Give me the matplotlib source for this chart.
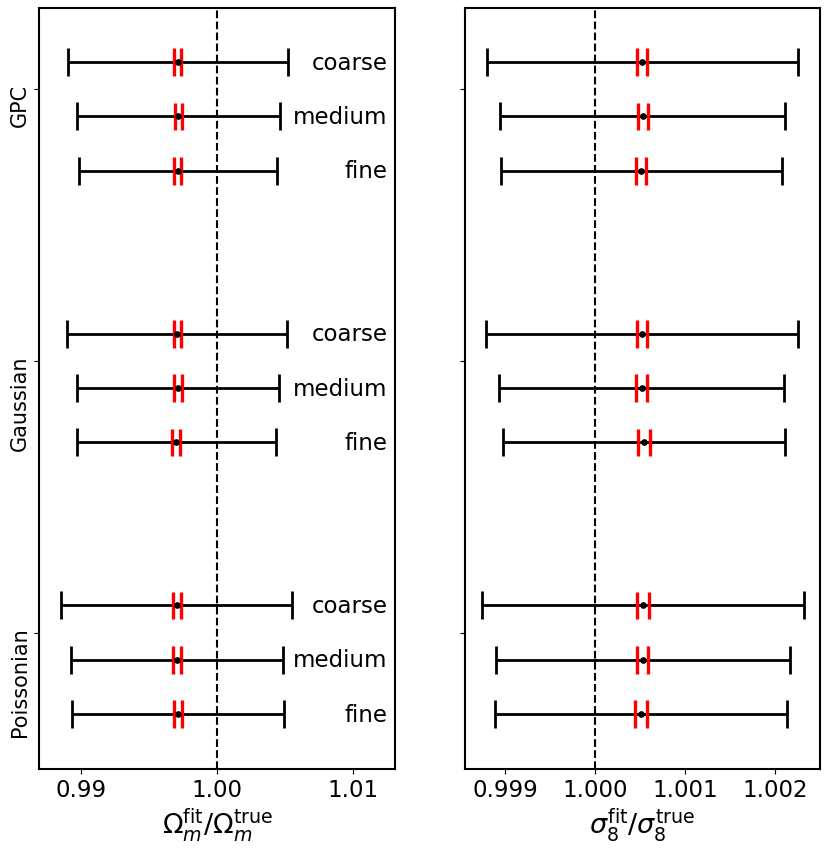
import matplotlib
matplotlib.use("Agg")
import matplotlib.pyplot as plt
import matplotlib.transforms as mtransforms
import numpy as np

groups = ["GPC", "Gaussian", "Poissonian"]
resolutions = ["coarse", "medium", "fine"]

# Omega_m ratio: centre, 1-sigma error, error on the mean (red)
om_center = [0.99712, 0.99716, 0.99713,
             0.99709, 0.99714, 0.99702,
             0.99704, 0.99705, 0.99712]
om_err = [0.00806, 0.00743, 0.00728,
          0.00807, 0.00743, 0.00731,
          0.00846, 0.00778, 0.00776]
om_mean_err = [0.00027, 0.00027, 0.00026,
               0.00028, 0.00028, 0.00029,
               0.00029, 0.00029, 0.00028]

# sigma_8 ratio
s8_center = [1.000525, 1.000530, 1.000515,
             1.000520, 1.000517, 1.000546,
             1.000530, 1.000530, 1.000511]
s8_err = [0.001728, 0.001582, 0.001559,
          0.001732, 0.001580, 0.001565,
          0.001789, 0.001634, 0.001622]
s8_mean_err = [0.000057, 0.000057, 0.000057,
               0.000058, 0.000058, 0.000063,
               0.000068, 0.000061, 0.000070]

# vertical layout: rows within a group, groups separated by 5 units
ypos = []
for g in range(len(groups)):
    for r in range(len(resolutions)):
        ypos.append(5 * g + r)
ypos = np.array(ypos, dtype=float)
group_ticks = [5 * g + 0.5 for g in range(len(groups))]

W, H, DPI = 830, 853, 100
fig = plt.figure(figsize=(W / DPI, H / DPI), dpi=DPI)
ax1 = fig.add_axes([39.3 / W, 1 - 769.5 / H, 355.7 / W, 760.2 / H])
ax2 = fig.add_axes([465 / W, 1 - 769.5 / H, 355 / W, 760.2 / H], sharey=ax1)

def panel(ax, c, e, me):
    c = np.asarray(c); e = np.asarray(e); me = np.asarray(me)
    ax.axvline(1.0, color="k", ls="--", lw=1.5, zorder=1)
    ax.errorbar(c, ypos, xerr=e, fmt="none", ecolor="k", elinewidth=2.0,
                capsize=10, capthick=2.0, zorder=2)
    ax.vlines(c - me, ypos - 0.255, ypos + 0.255, color="red", lw=2.4, zorder=3)
    ax.vlines(c + me, ypos - 0.255, ypos + 0.255, color="red", lw=2.4, zorder=3)
    ax.plot(c, ypos, "o", color="k", ms=3.8, zorder=4)
    for s in ax.spines.values():
        s.set_linewidth(1.5)
    ax.tick_params(axis="x", labelsize=16.5)
    ax.tick_params(axis="y", labelsize=15)

panel(ax1, om_center, om_err, om_mean_err)
panel(ax2, s8_center, s8_err, s8_mean_err)

ax1.set_xlim(0.98696, 1.01306)
ax1.set_xticks([0.99, 1.00, 1.01])
ax1.set_xticklabels(["0.99", "1.00", "1.01"])
ax2.set_xlim(0.998556, 1.0025)
ax2.set_xticks([0.999, 1.000, 1.001, 1.002])
ax2.set_xticklabels(["0.999", "1.000", "1.001", "1.002"])

ax1.set_ylim(13.0, -0.99)
ax1.set_yticks(group_ticks)
ax1.set_yticklabels(groups, rotation=90, va="top")
offset = mtransforms.ScaledTranslation(0, 6 / DPI, fig.dpi_scale_trans)
for lab in ax1.get_yticklabels():
    lab.set_transform(lab.get_transform() + offset)
plt.setp(ax2.get_yticklabels(), visible=False)

ax1.set_xlabel(r"$\Omega_m^{\rm fit}/\Omega_m^{\rm true}$", fontsize=19.5, labelpad=3)
ax2.set_xlabel(r"$\sigma_8^{\rm fit}/\sigma_8^{\rm true}$", fontsize=19.5, labelpad=3)

trans = mtransforms.blended_transform_factory(ax1.transAxes, ax1.transData)
for i, y in enumerate(ypos):
    ax1.text(0.979, y, resolutions[i % 3], transform=trans, ha="right",
             va="center", fontsize=16.5)

fig.savefig("out.png", dpi=DPI)
